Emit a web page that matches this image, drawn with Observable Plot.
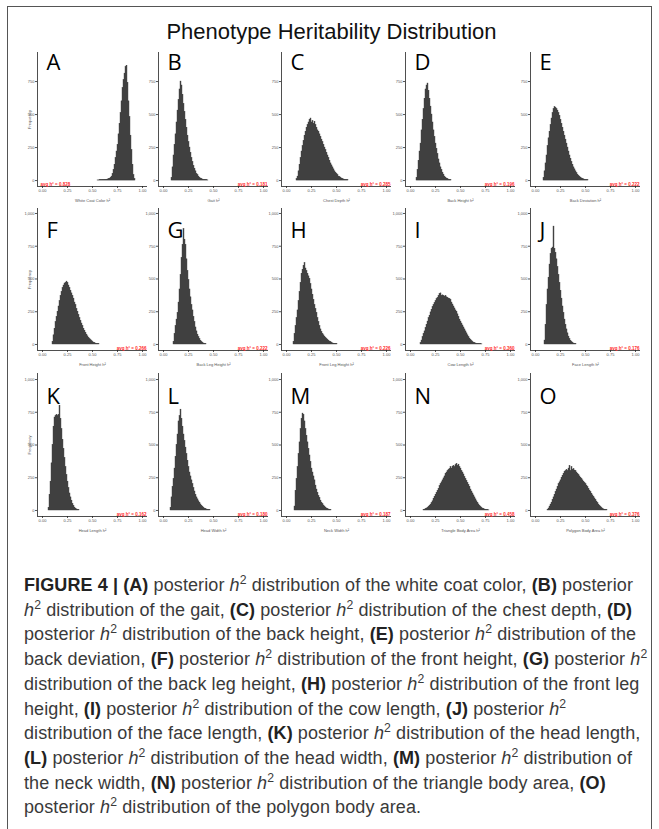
<!DOCTYPE html>
<html><head><meta charset="utf-8">
<script src="https://cdn.jsdelivr.net/npm/d3@7"></script>
<script src="https://cdn.jsdelivr.net/npm/@observablehq/plot@0.6"></script>
<style>
body{margin:0;background:#fff;}
#fig{position:relative;width:659px;height:829px;overflow:hidden;font-family:"Liberation Sans",Arial,sans-serif;background:#fff;}
#box{position:absolute;left:7px;top:6px;width:645px;height:860px;border:1px solid #555;box-sizing:border-box;}
#title{position:absolute;left:0;width:663px;top:19px;text-align:center;font-size:22px;line-height:26px;color:#111;}
.panel{position:absolute;}
.panel svg{overflow:visible;}
#caption{position:absolute;left:24px;top:573px;font-size:18px;line-height:24.7px;color:#3a3a3a;white-space:nowrap;letter-spacing:0.1px;}
#caption b{color:#222;}
#caption sup{font-size:0.68em;line-height:0;vertical-align:0.55em;}
</style></head><body>
<div id="fig">
<div id="box"></div>
<div id="title">Phenotype Heritability Distribution</div>
<div id="panels"></div>
<div id="caption"></div>
</div>
<script>
// ---------- data ----------
const panelLetters = ["A","B","C","D","E","F","G","H","I","J","K","L","M","N","O"];
const xLabels = ["White Coat Color","Gait","Chest Depth","Back Height","Back Deviation",
  "Front Height","Back Leg Height","Front Leg Height","Cow Length","Face Length",
  "Head Length","Head Width","Neck Width","Triangle Body Area","Polygon Body Area"];
const meanLabels = ["0.828","0.181","0.285","0.196","0.222","0.266","0.222","0.226","0.360","0.176","0.162","0.180","0.187","0.458","0.376"];
const xTicks = [0, 0.25, 0.5, 0.75, 1];
const yTicksRow1 = [0, 250, 500, 750];
const yTicksRow23 = [0, 250, 500, 750, 1000];
const binWidth = 0.01;
const binStart = [0.55,0.08,0.10,0.06,0.08, 0.10,0.10,0.07,0.10,0.09, 0.06,0.07,0.08,0.13,0.12];

const countsA = [1,1,2,2,2,3,3,4,5,6,8,10,14,20,30,50,80,120,170,220,270,350,430,510,600,700,760,810,860,870,740,600,480,340,230,120,40,10];
const countsB = [20,100,190,270,350,440,530,610,690,750,720,650,580,520,460,400,340,290,250,210,170,140,110,90,70,50,40,30,20,15,10,7,5,4,3,2,1];
const countsC = [10,30,70,120,170,220,260,300,340,370,400,420,440,460,470,440,450,430,445,420,400,380,370,350,330,310,290,270,250,230,210,190,170,150,130,115,100,85,70,60,50,40,30,25,20,15,10,8,6,4,3,2];
const countsD = [20,80,150,220,280,380,460,540,620,690,720,735,680,620,560,500,440,380,330,280,240,200,160,130,100,80,60,45,30,22,15,10,6,4,2];
const countsE = [20,70,130,190,260,320,370,420,470,510,540,555,550,540,530,510,490,460,430,400,370,340,310,280,250,220,190,165,140,120,100,85,70,55,45,35,28,22,16,12,9,6,4,3,2];
const countsF = [20,70,120,170,210,250,290,330,370,400,430,450,465,470,480,470,450,430,410,390,370,350,320,300,270,250,225,200,180,160,140,120,105,90,75,62,50,40,32,25,18,13,9,6,4,3,2];
const countsG = [20,80,140,190,240,320,420,530,660,760,880,800,760,650,560,490,420,360,300,260,210,170,130,100,75,55,40,28,18,12,7,4,2];
const countsH = [20,80,140,200,260,330,400,470,540,570,600,620,580,560,540,520,500,460,420,380,340,300,270,240,200,170,140,115,95,80,70,60,50,42,35,28,22,17,12,8,6,4,3,2];
const countsI = [10,30,55,80,100,125,150,175,200,220,245,265,285,300,315,330,345,355,370,385,390,370,375,370,365,370,360,355,350,345,340,320,305,290,275,260,250,230,210,190,175,160,145,130,115,100,85,70,55,45,35,25,18,13,9,7,5,4,3,2,2,1];
const countsJ = [30,150,300,420,510,610,690,730,740,900,730,700,650,590,530,470,410,350,290,240,190,150,115,85,60,40,28,18,12,7,4,2];
const countsK = [20,120,220,360,500,640,710,720,730,720,730,800,700,620,540,470,400,330,270,220,170,130,100,75,50,35,22,14,8,4,2];
const countsL = [20,100,180,240,320,410,500,580,680,720,770,700,640,580,530,480,430,380,330,290,260,230,200,170,145,120,100,85,70,58,46,36,28,20,14,10,7,5,3,2];
const countsM = [30,150,240,330,430,520,620,700,740,730,680,620,570,520,470,420,370,320,290,260,230,190,160,135,110,95,75,60,48,38,30,22,15,10,7,4,2];
const countsN = [3,6,10,15,20,28,36,45,55,70,90,105,120,135,150,165,185,200,215,230,245,260,280,290,300,310,315,330,320,335,340,330,345,355,340,350,330,320,300,290,275,255,240,225,210,195,180,160,145,130,115,100,85,70,58,46,35,26,19,14,10,7,5,3,2,1];
const countsO = [5,15,30,45,60,80,100,120,140,160,180,200,215,230,250,265,280,295,300,310,300,320,340,300,330,310,315,305,300,290,280,270,260,250,240,230,220,210,200,190,178,165,152,140,128,115,103,92,80,68,56,45,35,26,18,12,8,5,3,2];
const allCounts = [countsA,countsB,countsC,countsD,countsE,countsF,countsG,countsH,countsI,countsJ,countsK,countsL,countsM,countsN,countsO];

// ---------- layout (pixel positions) ----------
const colAxisX = [37, 158, 281, 405, 530];
const rowTop = [52, 208, 373];
const rowBottom = [186, 350, 516];
const yDomains = [[-45, 970], [-46, 1038], [-46, 1046]];
const letterDy = [2, 14, 15];
const mL = 18, mR = 2, mT = 4, mB = 22, frameW = 110;

const host = document.getElementById("panels");
allCounts.forEach((counts, i) => {
  const row = Math.floor(i / 5), col = i % 5;
  const data = counts.map((c, k) => ({x1: binStart[i] + k * binWidth, x2: binStart[i] + (k + 1) * binWidth, y: c}));
  const yDom = yDomains[row];
  const xDom = [-0.05, 1.05];
  const leftLabel = (row === 0 && col === 0);
  const plot = Plot.plot({
    width: mL + frameW + mR,
    height: mT + (rowBottom[row] - rowTop[row]) + mB,
    marginLeft: mL, marginRight: mR, marginTop: mT, marginBottom: mB,
    style: {background: "transparent", overflow: "visible", fontFamily: "Liberation Sans, Arial, sans-serif"},
    x: {domain: xDom},
    y: {domain: yDom},
    marks: [
      Plot.rectY(data, {x1: "x1", x2: "x2", y: "y", fill: "#474747", stroke: "#3c3c3c", strokeWidth: 0.4, inset: 0}),
      Plot.axisX({ticks: xTicks, tickFormat: d3.format(".2f"), tickSize: 2, tickPadding: 1, fontSize: 4, color: "#555",
        label: xLabels[i] + " h²", labelAnchor: "center", labelOffset: 15, labelArrow: "none"}),
      Plot.axisY({ticks: row === 0 ? yTicksRow1 : yTicksRow23, tickSize: 2, tickPadding: 1, fontSize: 4, color: "#555",
        label: col === 0 ? "Frequency" : null, labelAnchor: "center", labelOffset: 9, labelArrow: "none"}),
      Plot.ruleX([xDom[0]], {stroke: "#222", strokeWidth: 0.8}),
      Plot.ruleY([yDom[0]], {stroke: "#222", strokeWidth: 0.8}),
      Plot.text([panelLetters[i]], {frameAnchor: "top-left", textAnchor: "start", lineAnchor: "top", dx: 9, dy: letterDy[row],
        fontSize: 22, fill: "#000", fontFamily: "Open Sans, Liberation Sans, sans-serif"}),
      Plot.text(["avg h² = " + meanLabels[i]], {frameAnchor: leftLabel ? "bottom-left" : "bottom-right",
        textAnchor: leftLabel ? "start" : "end", lineAnchor: "bottom", dx: leftLabel ? 3 : -1, dy: -1,
        fontSize: 4.5, fontWeight: "bold", fill: "#ff2a2a"})
    ]
  });
  const div = document.createElement("div");
  div.className = "panel";
  div.style.left = (colAxisX[col] - mL) + "px";
  div.style.top = (rowTop[row] - mT) + "px";
  div.appendChild(plot);
  host.appendChild(div);
});

// ---------- caption ----------
const H2 = "<i>h</i><sup>2</sup>";
const captionLines = [
  "<b>FIGURE 4 | (A)</b> posterior " + H2 + " distribution of the white coat color, <b>(B)</b> posterior",
  H2 + " distribution of the gait, <b>(C)</b> posterior " + H2 + " distribution of the chest depth, <b>(D)</b>",
  "posterior " + H2 + " distribution of the back height, <b>(E)</b> posterior " + H2 + " distribution of the",
  "back deviation, <b>(F)</b> posterior " + H2 + " distribution of the front height, <b>(G)</b> posterior " + H2,
  "distribution of the back leg height, <b>(H)</b> posterior " + H2 + " distribution of the front leg",
  "height, <b>(I)</b> posterior " + H2 + " distribution of the cow length, <b>(J)</b> posterior " + H2,
  "distribution of the face length, <b>(K)</b> posterior " + H2 + " distribution of the head length,",
  "<b>(L)</b> posterior " + H2 + " distribution of the head width, <b>(M)</b> posterior " + H2 + " distribution of",
  "the neck width, <b>(N)</b> posterior " + H2 + " distribution of the triangle body area, <b>(O)</b>",
  "posterior " + H2 + " distribution of the polygon body area."
];
document.getElementById("caption").innerHTML = captionLines.map(l => "<div>" + l + "</div>").join("");
</script>
</body></html>
